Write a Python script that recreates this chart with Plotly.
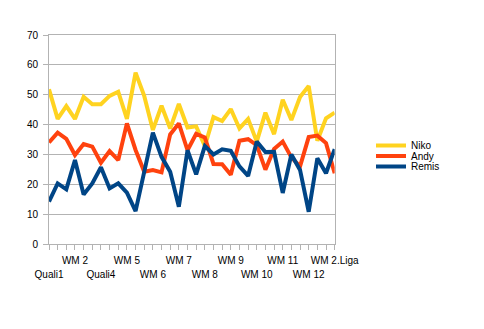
import plotly.graph_objects as go

# Category positions (34 categories, every third one is labelled)
n_points = 34
label_index = [0, 3, 6, 9, 12, 15, 18, 21, 24, 27, 30, 33]
label_text = ["Quali1", "WM 2", "Quali4", "WM 5", "WM 6", "WM 7",
              "WM 8", "WM 9", "WM 10", "WM 11", "WM 12", "WM 2.Liga"]

niko = [51.8, 41.9, 46.2, 41.9, 49.3, 46.8, 46.8, 49.6, 51.0, 41.9, 57.4, 49.6,
        38.2, 46.3, 38.7, 46.9, 39.0, 39.4, 32.8, 42.5, 41.2, 45.2, 38.7, 41.9,
        34.3, 44.0, 36.8, 48.3, 41.5, 49.2, 52.9, 34.6, 42.1, 44.0]
andy = [34.0, 37.3, 35.2, 29.8, 33.5, 32.6, 27.2, 31.1, 28.1, 40.4, 31.5, 24.2,
        24.8, 24.0, 36.7, 40.4, 31.4, 36.9, 35.7, 26.8, 26.7, 23.2, 34.6, 35.1,
        33.1, 24.9, 31.8, 34.3, 29.0, 26.0, 35.8, 36.3, 33.8, 23.7]
remis = [14.2, 20.3, 18.3, 28.1, 16.6, 20.3, 25.7, 18.6, 20.3, 17.2, 11.0, 23.7,
         37.3, 29.2, 24.2, 12.5, 31.4, 23.3, 32.8, 30.0, 31.7, 31.2, 26.0, 22.8,
         34.3, 30.8, 30.9, 17.1, 30.0, 24.8, 10.8, 28.7, 23.7, 31.8]

series_names = ["Niko", "Andy", "Remis"]
series_values = [niko, andy, remis]
series_colors = ["#ffd320", "#ff420e", "#004586"]
legend_ids = ["legend", "legend2", "legend3"]

x = list(range(n_points))
GRID = "#b3b3b3"
FONT = dict(family="Liberation Sans, Arial, sans-serif", size=10, color="#000000")

fig = go.Figure()
for name, vals, col, lg in zip(series_names, series_values, series_colors, legend_ids):
    fig.add_trace(go.Scatter(x=x, y=vals, name=name, mode="lines",
                             line=dict(color=col, width=4), legend=lg))

# upper row labels on main axis, lower row on an overlaid axis
upper_vals = label_index[1::2]
upper_text = label_text[1::2]
lower_vals = label_index[0::2]
lower_text = label_text[0::2]

legend_style = dict(xref="container", yref="container", xanchor="left",
                    yanchor="middle", font=FONT, bgcolor="rgba(0,0,0,0)",
                    itemwidth=30)
layout_legends = {}
for k, lg in enumerate(legend_ids):
    ypix = 145.5 + 10.5 * k
    layout_legends[lg] = dict(legend_style, x=371 / 484, y=1 - ypix / 329)

fig.update_layout(
    width=484, height=329,
    margin=dict(l=49, r=130, t=35, b=85),
    paper_bgcolor="white", plot_bgcolor="white",
    font=FONT,
    showlegend=True,
    xaxis=dict(range=[0, n_points - 1], tickmode="array", tickvals=upper_vals,
               ticktext=upper_text, showgrid=False, zeroline=False,
               showline=True, linecolor=GRID, linewidth=1, mirror=True,
               ticks="outside", ticklen=5, tickcolor=GRID, tickangle=0,
               minor=dict(tickmode="array", tickvals=x, ticks="outside",
                          ticklen=5, tickcolor=GRID, showgrid=False),
               ticklabelstandoff=2),
    xaxis2=dict(range=[0, n_points - 1], overlaying="x", anchor="y", side="bottom",
                tickmode="array", tickvals=lower_vals, ticktext=lower_text,
                showgrid=False, zeroline=False, showline=False, ticks="",
                tickangle=0, ticklabelstandoff=23),
    yaxis=dict(range=[0, 70], dtick=10, tick0=0, showgrid=True, gridcolor=GRID,
               gridwidth=1, zeroline=False, showline=True, linecolor=GRID,
               linewidth=1, mirror=True, ticks="outside", ticklen=5,
               tickcolor=GRID, ticklabelstandoff=3),
    **layout_legends,
)
# invisible trace to activate the overlaid axis
fig.add_trace(go.Scatter(x=[0], y=[0], xaxis="x2", yaxis="y", mode="markers",
                         marker=dict(opacity=0), showlegend=False,
                         hoverinfo="skip"))

fig.write_html("out.html")
